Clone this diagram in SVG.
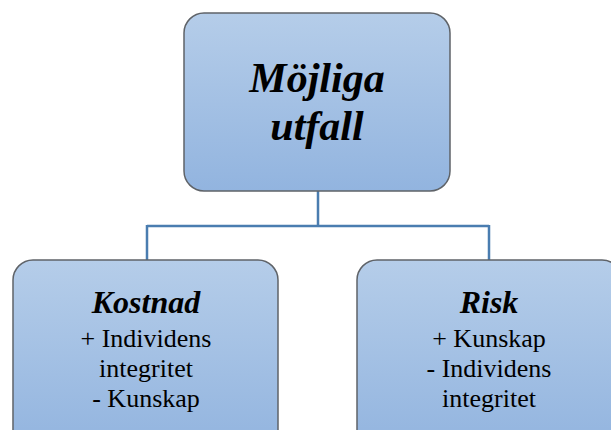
<svg xmlns="http://www.w3.org/2000/svg" width="611" height="430" viewBox="0 0 611 430">
<defs>
<linearGradient id="g" x1="0" y1="0" x2="0" y2="1">
<stop offset="0" stop-color="#b5cde9"/>
<stop offset="1" stop-color="#92b4df"/>
</linearGradient>
<style>
.box{fill:url(#g);stroke:#5f6368;stroke-width:1.5}
.conn{fill:none;stroke:#4a7db0;stroke-width:2.5}
svg g text.lbl{fill:#000;text-anchor:middle;font-family:"Liberation Serif","Times New Roman",serif !important}
svg g text.head{font-weight:bold;font-style:italic}
</style>
</defs>
<rect width="611" height="430" fill="#fff"/>
<g id="connectors">
<path class="conn" d="M318 191 V226 M147 226 H489 M147 225 V260 M489 225 V260"/>
</g>
<g id="top">
<rect class="box" x="184" y="13" width="266" height="178" rx="20"/>
<text class="lbl head" x="317" y="92" font-size="42" style="font-family:'Liberation Serif',serif !important">M&#246;jliga</text>
<text class="lbl head" x="317" y="140" font-size="42" style="font-family:'Liberation Serif',serif !important">utfall</text>
</g>
<g id="kostnad">
<rect class="box" x="13" y="260" width="265" height="190" rx="20"/>
<text class="lbl head" x="146" y="313" font-size="32" style="font-family:'Liberation Serif',serif !important">Kostnad</text>
<text class="lbl" x="146" y="347" font-size="26" style="font-family:'Liberation Serif',serif !important">+ Individens</text>
<text class="lbl" x="146" y="377" font-size="26" style="font-family:'Liberation Serif',serif !important">integritet</text>
<text class="lbl" x="146" y="407" font-size="26" style="font-family:'Liberation Serif',serif !important">- Kunskap</text>
</g>
<g id="risk">
<rect class="box" x="357" y="260" width="265" height="190" rx="20"/>
<text class="lbl head" x="489" y="313" font-size="32" style="font-family:'Liberation Serif',serif !important">Risk</text>
<text class="lbl" x="489" y="347" font-size="26" style="font-family:'Liberation Serif',serif !important">+ Kunskap</text>
<text class="lbl" x="489" y="377" font-size="26" style="font-family:'Liberation Serif',serif !important">- Individens</text>
<text class="lbl" x="489" y="407" font-size="26" style="font-family:'Liberation Serif',serif !important">integritet</text>
</g>
</svg>
